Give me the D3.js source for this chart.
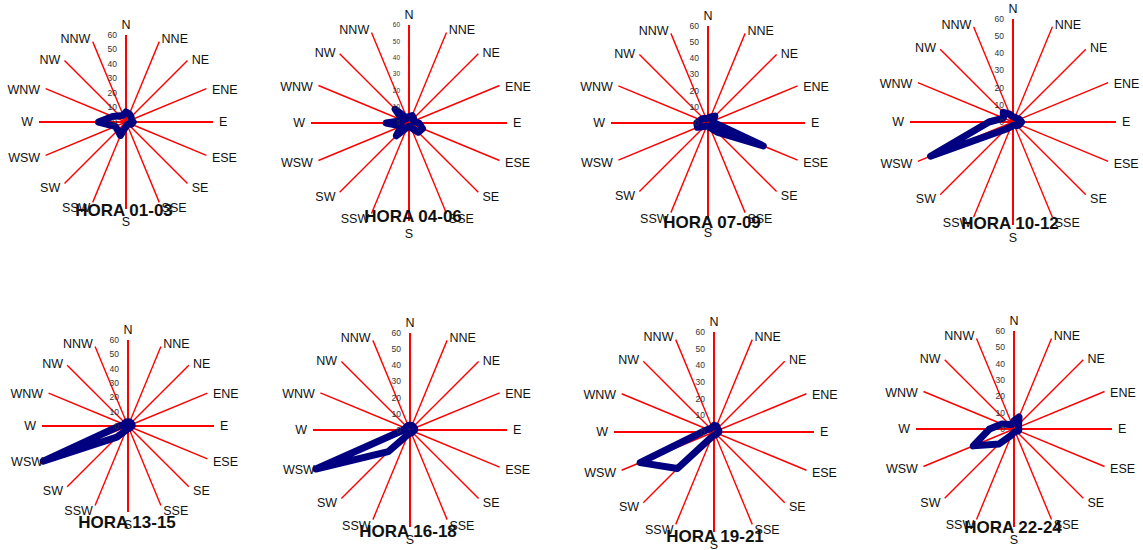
<!DOCTYPE html>
<html>
<head>
<meta charset="utf-8">
<script src="https://cdn.jsdelivr.net/npm/d3@7"></script>
<style>
  html, body { margin: 0; padding: 0; background: #fff; }
  svg { display: block; font-family: "Liberation Sans", Arial, sans-serif; }
</style>
</head>
<body>
<div id="chart"></div>
<script>
// Wind direction categories (clockwise from north)
const directions = ['N', 'NNE', 'NE', 'ENE', 'E', 'ESE', 'SE', 'SSE',
                    'S', 'SSW', 'SW', 'WSW', 'W', 'WNW', 'NW', 'NNW'];
const radialTicks = [0, 10, 20, 30, 40, 50, 60];
const titles = ['HORA 01-03', 'HORA 04-06', 'HORA 07-09', 'HORA 10-12',
                'HORA 13-15', 'HORA 16-18', 'HORA 19-21', 'HORA 22-24'];

// Frequency per direction
const hora0103 = [7, 6, 5, 4, 5, 4, 2, 2, 3, 10, 8, 8, 19, 10, 6, 5];
const hora0406 = [4, 5, 4, 3, 6, 9, 8, 3, 2, 3, 11, 5, 14, 4, 12, 3];
const hora0709 = [3, 4, 6, 3, 4, 37, 8, 3, 2, 2, 3, 7, 7, 5, 4, 3];
const hora1012 = [3, 3, 3, 4, 5, 4, 3, 2, 2, 3, 6, 52, 14, 6, 8, 5];
const hora1315 = [3, 3, 3, 3, 3, 2, 2, 2, 2, 3, 11, 64, 6, 3, 3, 3];
const hora1618 = [3, 3, 3, 3, 3, 2, 2, 2, 2, 3, 19, 63, 4, 3, 3, 3];
const hora1921 = [4, 4, 3, 3, 3, 2, 2, 2, 2, 3, 31, 48, 7, 4, 3, 3];
const hora2224 = [5, 8, 4, 3, 3, 3, 2, 2, 2, 4, 13, 27, 15, 8, 4, 3];

const series = [hora0103, hora0406, hora0709, hora1012,
                hora1315, hora1618, hora1921, hora2224];

// Panel placement (centre, radius, title position)
const panels = [
  { cx: 126,  cy: 122, r: 87,  tx: 124,  ty: 216, tick: 8.5 },
  { cx: 409,  cy: 123, r: 98,  tx: 413,  ty: 222, tick: 6.5 },
  { cx: 708,  cy: 123, r: 97,  tx: 712,  ty: 228, tick: 8.5 },
  { cx: 1013, cy: 122, r: 103, tx: 1010, ty: 229, tick: 8.5 },
  { cx: 128,  cy: 426, r: 86,  tx: 127,  ty: 528, tick: 8.5 },
  { cx: 410,  cy: 430, r: 97,  tx: 408,  ty: 537, tick: 8.5 },
  { cx: 714,  cy: 432, r: 100, tx: 715,  ty: 542, tick: 8.5 },
  { cx: 1014, cy: 429, r: 98,  tx: 1013, ty: 533, tick: 8.5 }
];

const width = 1143;
const height = 550;

const svg = d3.select('#chart')
  .append('svg')
  .attr('width', width)
  .attr('height', height);

const angle = d3.scaleLinear()
  .domain([0, directions.length])
  .range([0, 2 * Math.PI]);

panels.forEach((p, k) => {
  const values = series[k];
  const rScale = d3.scaleLinear().domain([0, 60]).range([0, p.r]);

  const g = svg.append('g')
    .attr('transform', `translate(${p.cx},${p.cy})`);

  // Spokes
  g.selectAll('.spoke')
    .data(directions)
    .enter()
    .append('line')
    .attr('class', 'spoke')
    .attr('x1', 0)
    .attr('y1', 0)
    .attr('x2', (d, i) => Math.sin(angle(i)) * rScale(60))
    .attr('y2', (d, i) => -Math.cos(angle(i)) * rScale(60))
    .attr('stroke', '#ff0000')
    .attr('stroke-width', (d, i) => i % 4 === 0 ? 2 : 1.4);

  // Data polygon
  const line = d3.lineRadial()
    .angle((d, i) => angle(i))
    .radius(d => rScale(d))
    .curve(d3.curveLinearClosed);

  g.append('path')
    .datum(values)
    .attr('d', line)
    .attr('fill', 'none')
    .attr('stroke', '#000080')
    .attr('stroke-width', 7)
    .attr('stroke-linejoin', 'round');

  // Radial tick labels along the N axis
  g.selectAll('.rtick')
    .data(radialTicks)
    .enter()
    .append('text')
    .attr('class', 'rtick')
    .attr('x', -9)
    .attr('y', d => -rScale(d))
    .attr('dy', '0.35em')
    .attr('text-anchor', 'end')
    .style('font-size', p.tick + 'px')
    .style('fill', '#333')
    .text(d => d);

  // Direction labels
  g.selectAll('.dir')
    .data(directions)
    .enter()
    .append('text')
    .attr('class', 'dir')
    .attr('x', (d, i) => {
      const s = Math.sin(angle(i));
      return s * (p.r + 6);
    })
    .attr('y', (d, i) => {
      const s = Math.sin(angle(i));
      const c = Math.cos(angle(i));
      if (Math.abs(s) < 0.2) return c > 0 ? -(p.r + 10) : (p.r + 13);
      return -c * (p.r + 6) + (c > 0.2 ? 3 : 0);
    })
    .attr('dy', '0.35em')
    .attr('text-anchor', (d, i) => {
      const s = Math.sin(angle(i));
      return s > 0.2 ? 'start' : s < -0.2 ? 'end' : 'middle';
    })
    .style('font-size', '12.5px')
    .style('fill', '#111')
    .text(d => d);

  // Title
  svg.append('text')
    .attr('x', p.tx)
    .attr('y', p.ty)
    .attr('text-anchor', 'middle')
    .style('font-size', '17px')
    .style('font-weight', 'bold')
    .style('fill', '#111')
    .text(titles[k]);
});
</script>
</body>
</html>
